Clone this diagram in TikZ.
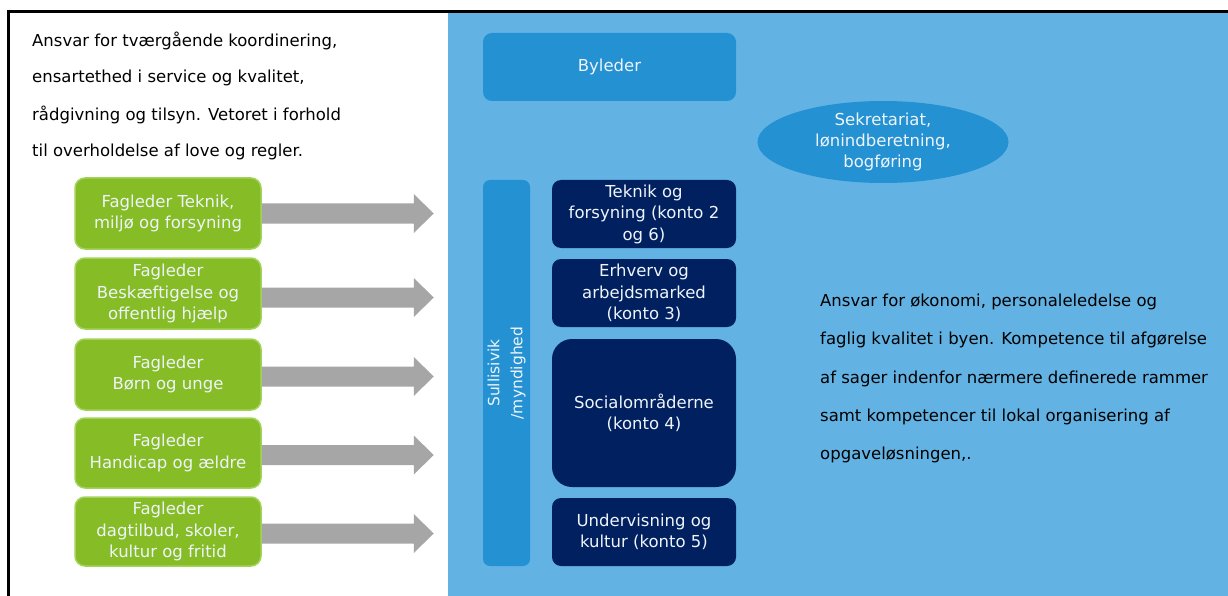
\documentclass[tikz,border=0pt]{standalone}
\usepackage{fontspec}
\setmainfont{DejaVu Sans}
\usetikzlibrary{shapes.geometric}
\definecolor{lightblue}{HTML}{62B3E4}
\definecolor{midblue}{HTML}{2391D2}
\definecolor{navy}{HTML}{00205F}
\definecolor{leafgreen}{HTML}{86BC25}
\definecolor{leafedge}{HTML}{A3D45A}
\definecolor{arrowgrey}{HTML}{A6A6A6}
\definecolor{boxtext}{HTML}{EEF4FA}
\tikzset{
  txt/.style={font=\fontsize{16.5}{21}\selectfont},
  greenbox/.style={draw=leafedge, line width=1.5pt, fill=leafgreen, rounded corners=10pt, text=boxtext, align=center, minimum width=186pt, inner sep=0pt, font=\fontsize{16.5}{21.5}\selectfont},
  navybox/.style={fill=navy, rounded corners=9pt, text=boxtext, align=center, minimum width=184pt, inner sep=0pt, font=\fontsize{16.5}{21.5}\selectfont},
  bluebox/.style={fill=midblue, rounded corners=9pt, text=boxtext, align=center, inner sep=0pt, font=\fontsize{16.5}{21.5}\selectfont},
  bigarrow/.style={fill=arrowgrey},
}
\begin{document}
\begin{tikzpicture}[x=1pt,y=-1pt]
\useasboundingbox (0,0) rectangle (1228,596);
\fill[white] (0,0) rectangle (1228,596);
% blue background
\fill[lightblue] (448,12) rectangle (1228,596);
% frame
\draw[line width=3pt] (8.5,596) -- (8.5,11.5) -- (1228,11.5);

% left text
\begin{scope}[every node/.style={txt, anchor=west, inner sep=0pt}]
\node (l1) at (32,41) {Ansvar for tværgående koordinering,};
\node (l2) at (32,78) {ensartethed i service og kvalitet,};
\node (l3) at (32,115) {rådgivning og tilsyn. Vetoret i forhold};
\node (l4) at (32,152) {til overholdelse af love og regler.};
\end{scope}

% green boxes
\node[greenbox, minimum height=71pt] (g1) at (168,213.5) {Fagleder Teknik,\\miljø og forsyning};
\node[greenbox, minimum height=71pt] (g2) at (168,293.5) {Fagleder\\Beskæftigelse og\\offentlig hjælp};
\node[greenbox, minimum height=71pt] (g3) at (168,374.5) {Fagleder\\Børn og unge};
\node[greenbox, minimum height=70pt] (g4) at (168,453) {Fagleder\\Handicap og ældre};
\node[greenbox, minimum height=69pt] (g5) at (168,531.5) {Fagleder\\dagtilbud, skoler,\\kultur og fritid};

% arrows
\foreach \g/\dy in {g1/0,g2/4,g3/2,g4/2,g5/2} {
  \fill[bigarrow] ([yshift=-\dy pt]\g.east) ++(0,-10) -- ++(152,0) -- ++(0,-9.5) -- ++(20,19.5) -- ++(-20,19.5) -- ++(0,-9.5) -- ++(-152,0) -- cycle;
}

% Byleder
\node[bluebox, minimum width=253pt, minimum height=68pt] (by) at (609.5,67) {Byleder};
% Sekretariat ellipse
\node[ellipse, fill=midblue, text=boxtext, align=center, minimum width=251pt, minimum height=75pt, inner sep=0pt, font=\fontsize{16.5}{21}\selectfont] (sek) at (883,142) {Sekretariat,\\lønindberetning,\\bogføring};

% Sullisivik bar
\node[bluebox, rounded corners=7pt, minimum width=47pt, minimum height=386pt] (sul) at (506.5,373) {};
\node[rotate=90, text=boxtext, align=center, font=\fontsize{15.5}{23}\selectfont, inner sep=0pt] (sult) at (sul.center) {Sullisivik\\/myndighed};

% navy boxes
\node[navybox, minimum height=68pt] (n1) at (644,214) {Teknik og\\forsyning (konto 2\\og 6)};
\node[navybox, minimum height=68pt] (n2) at (644,293) {Erhverv og\\arbejdsmarked\\(konto 3)};
\node[navybox, rounded corners=20pt, minimum height=148pt] (n3) at (644,413) {Socialområderne\\(konto 4)};
\node[navybox, minimum height=68pt] (n4) at (644,532) {Undervisning og\\kultur (konto 5)};

% right text
\begin{scope}[every node/.style={txt, anchor=west, inner sep=0pt}]
\node (r1) at (820,302) {Ansvar for økonomi, personaleledelse og};
\node (r2) at (820,340) {faglig kvalitet i byen. Kompetence til afgørelse};
\node (r3) at (820,379) {af sager indenfor nærmere definerede rammer};
\node (r4) at (820,417) {samt kompetencer til lokal organisering af};
\node (r5) at (820,455) {opgaveløsningen,.};
\end{scope}
\end{tikzpicture}
\end{document}
